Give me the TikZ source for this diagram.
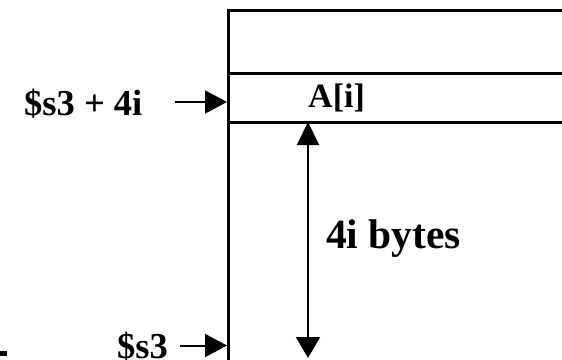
\documentclass[tikz,border=0pt]{standalone}
\usepackage{fontspec}
\setmainfont{Liberation Serif}
\usetikzlibrary{arrows.meta}
\begin{document}
\begin{tikzpicture}[x=1pt,y=-1pt,
  wall/.style={line width=3pt},
  ptr/.style={line width=2pt,-{Triangle[length=22pt,width=23pt]}},
  span/.style={line width=2pt,{Triangle[length=23pt,width=22pt]}-{Triangle[length=21pt,width=24pt]}},
  lbl/.style={anchor=base west,inner sep=0pt,font=\bfseries\fontsize{36.5}{40}\selectfont},
  cell/.style={anchor=base west,inner sep=0pt,font=\bfseries\fontsize{34}{38}\selectfont},
  big/.style={anchor=base west,inner sep=0pt,font=\bfseries\fontsize{41.5}{46}\selectfont}]
\useasboundingbox (0,0) rectangle (562,359);
% memory column: left wall and row boundaries
\coordinate (tl) at (228,10.5);
\coordinate (bl) at (228,362);
\draw[wall] (bl) -- (tl) -- (565,10.5);
\coordinate (rowA) at (228,73);
\coordinate (rowB) at (228,122);
\draw[wall] (rowA) -- (565,73);
\draw[wall] (rowB) -- (565,122);
% element label
\node[cell] (ai) at (308,107) {A[i]};
% address labels with pointers into the column
\node[lbl] (addrI) at (24,115) {\$s3 + 4i};
\coordinate (pI) at (175,102);
\coordinate (wI) at (227,102);
\draw[ptr] (pI) -- (wI);
\node[lbl] (addr0) at (117,358) {\$s3};
\coordinate (p0) at (180,345.5);
\coordinate (w0) at (227,345.5);
\draw[ptr] (p0) -- (w0);
% offset span
\coordinate (st) at (308,122);
\coordinate (sb) at (308,358);
\draw[span] (st) -- (sb);
\node[big] (off) at (326,248) {4i bytes};
% stray dash at the lower left
\fill (0,351) rectangle (7,355.5);
\end{tikzpicture}
\end{document}
